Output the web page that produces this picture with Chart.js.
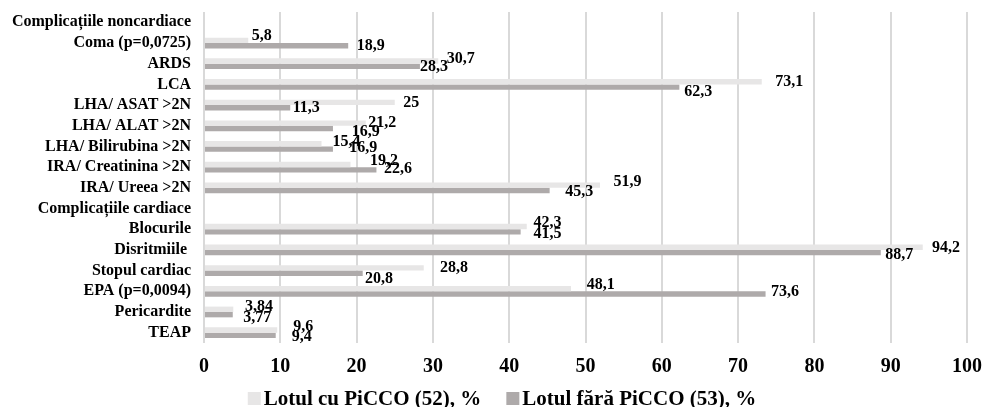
<!DOCTYPE html>
<html>
<head>
<meta charset="utf-8">
<script src="https://cdn.jsdelivr.net/npm/chart.js@4/dist/chart.umd.min.js"></script>
<style>
  html, body { margin: 0; padding: 0; background: #ffffff; }
  #wrap { width: 985px; height: 407px; }
</style>
</head>
<body>
<div id="wrap"><canvas id="chart" width="985" height="407"></canvas></div>
<script>
// Rows of the chart, top to bottom; the two "Complicațiile ..." rows are group headers.
const categories = [
  'Complicațiile noncardiace',
  'Coma (p=0,0725)',
  'ARDS',
  'LCA',
  'LHA/ ASAT >2N',
  'LHA/ ALAT >2N',
  'LHA/ Bilirubina >2N',
  'IRA/ Creatinina >2N',
  'IRA/ Ureea >2N',
  'Complicațiile cardiace',
  'Blocurile',
  'Disritmiile ',
  'Stopul cardiac',
  'EPA (p=0,0094)',
  'Pericardite',
  'TEAP'
];

const seriesNames = ['Lotul cu PiCCO (52), %', 'Lotul fără PiCCO (53), %'];

// Percent of patients in each group
const withPiCCO    = [null, 5.8, 30.7, 73.1, 25, 21.2, 15.4, 19.2, 51.9, null, 42.3, 94.2, 28.8, 48.1, 3.84, 9.6];
const withoutPiCCO = [null, 18.9, 28.3, 62.3, 11.3, 16.9, 16.9, 22.6, 45.3, null, 41.5, 88.7, 20.8, 73.6, 3.77, 9.4];

// Value axis
const axisMin = 0;
const axisMax = 100;
const axisStep = 10;

// Hand placement of the value labels (pixels from the bar end / bar centre)
const labelShiftX = [
  [0, 3.5, 8.5, 13.5, 8.6, 2.6, 11, 19.6, 13.5, 0, 6.7, 9.2, 16.3, 15.8, 11.7, 16],
  [0, 8.5, 0, 4.8, 2.5, 18.8, 16.4, 7.6, 15.5, 0, 12.8, 4.5, 2.4, 5.4, 10.5, 16]
];
const labelShiftY = [
  [0, -4.6, -1.9, -0.2, 0.7, 0, -2.2, -3.6, -3.6, 0, -3.3, 0.4, 0.4, -3.6, -2.6, -3.3],
  [0, 0.2, 0.3, 4.6, 0.5, 3.2, -0.8, -0.5, 1.2, 0, 2.2, 1.8, 5.2, -2.1, 2.8, 1.5]
];

const FONT = "'Liberation Serif', 'Times New Roman', serif";
const colors = ['#e7e6e6', '#aeaaaa'];
const CLEAR = 'rgba(0,0,0,0)';

const fmt = v => String(v).replace('.', ',');

// Value labels at the end of each bar
const valueLabels = {
  id: 'valueLabels',
  afterDatasetsDraw(chart) {
    const ctx = chart.ctx;
    ctx.save();
    ctx.font = 'bold 16px ' + FONT;
    ctx.fillStyle = '#000000';
    ctx.textAlign = 'left';
    ctx.textBaseline = 'middle';
    chart.data.datasets.forEach((ds, di) => {
      const meta = chart.getDatasetMeta(di);
      meta.data.forEach((bar, i) => {
        const v = ds.data[i];
        if (v === null || v === undefined) return;
        ctx.fillText(fmt(v), bar.x + labelShiftX[di][i], bar.y + labelShiftY[di][i]);
      });
    });
    ctx.restore();
  }
};

// Legend under the axis: square swatch followed closely by the series name
const bottomLegend = {
  id: 'bottomLegend',
  afterDraw(chart) {
    const ctx = chart.ctx;
    ctx.save();
    ctx.font = 'bold 21px ' + FONT;
    ctx.textBaseline = 'alphabetic';
    ctx.textAlign = 'left';
    const box = 13, gap = 3, between = 25;
    const items = chart.data.datasets.map(ds => ({
      label: ds.label, color: ds.backgroundColor, w: ctx.measureText(ds.label).width
    }));
    let total = 0;
    items.forEach((it, k) => { total += box + gap + it.w + (k ? between : 0); });
    let x = 502 - total / 2;
    const base = 405;
    items.forEach((it) => {
      ctx.fillStyle = it.color;
      ctx.fillRect(x, base - box, box, box);
      ctx.fillStyle = '#000000';
      ctx.fillText(it.label, x + box + gap, base);
      x += box + gap + it.w + between;
    });
    ctx.restore();
  }
};

new Chart(document.getElementById('chart'), {
  type: 'bar',
  data: {
    labels: categories,
    datasets: [
      { label: seriesNames[0], data: withPiCCO, backgroundColor: colors[0] },
      { label: seriesNames[1], data: withoutPiCCO, backgroundColor: colors[1] }
    ]
  },
  options: {
    indexAxis: 'y',
    responsive: false,
    animation: false,
    devicePixelRatio: 1,
    categoryPercentage: 0.52,
    barPercentage: 1.0,
    layout: { padding: { top: 12, right: 18, bottom: 28, left: 0 } },
    plugins: {
      legend: { display: false },
      tooltip: { enabled: false }
    },
    scales: {
      x: {
        min: axisMin,
        max: axisMax,
        grid: { color: '#d9d9d9', lineWidth: 2, drawTicks: true, tickLength: 12, tickColor: CLEAR },
        border: { display: false },
        ticks: {
          stepSize: axisStep,
          padding: 0,
          color: '#000000',
          font: { family: FONT, size: 20, weight: 'bold' }
        }
      },
      y: {
        grid: { color: CLEAR, drawOnChartArea: false, drawTicks: true, tickLength: 13, tickColor: CLEAR },
        border: { display: false },
        afterFit(scale) { scale.width = 204; },
        ticks: {
          padding: 0,
          autoSkip: false,
          color: '#000000',
          font: { family: FONT, size: 16, weight: 'bold' }
        }
      }
    }
  },
  plugins: [valueLabels, bottomLegend]
});
</script>
</body>
</html>
